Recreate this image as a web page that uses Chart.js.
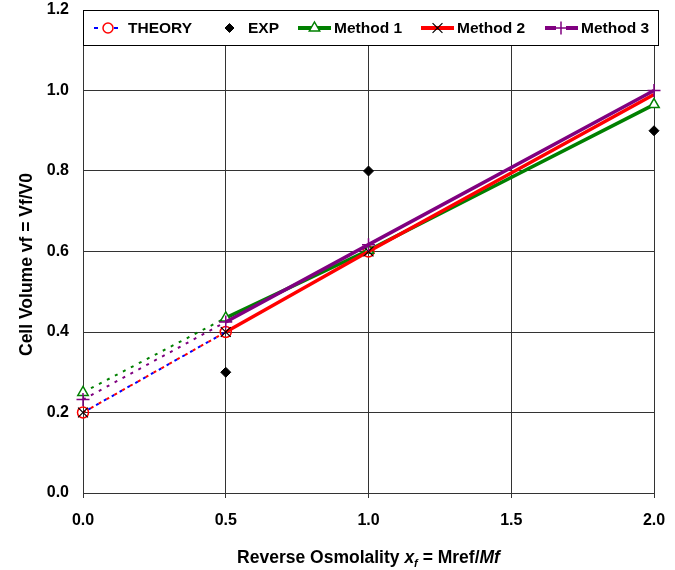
<!DOCTYPE html>
<html><head><meta charset="utf-8">
<script src="https://cdn.jsdelivr.net/npm/chart.js@4.4.0/dist/chart.umd.min.js"></script>
<style>html,body{margin:0;padding:0;background:#fff}#wrap{width:675px;height:570px;position:relative}</style>
</head><body><div id="wrap"><canvas id="c" width="675" height="570"></canvas></div>
<script>
// ---- data ----
const seriesNames = ['THEORY', 'EXP', 'Method 1', 'Method 2', 'Method 3'];
const xTicks = [0, 0.5, 1.0, 1.5, 2.0];
const yTicks = [0, 0.2, 0.4, 0.6, 0.8, 1.0, 1.2];
const theoryX = [0, 0.5, 1.0];
const theoryY = [0.2, 0.4, 0.6];
const expX = [0.5, 1.0, 2.0];
const expY = [0.3, 0.8, 0.9];
const methodX = [0, 0.5, 1.0, 2.0];
const method1Y = [0.25, 0.435, 0.603, 0.965];
const method2Y = [0.2, 0.4, 0.6, 0.99];
const method3Y = [0.232, 0.425, 0.617, 1.0];
const xTitleParts = ['Reverse Osmolality ', 'x', 'f', ' = Mref/', 'Mf'];
const yTitle = 'Cell Volume vf = Vf/V0';

const FONT = '"Liberation Sans", Arial, sans-serif';
const pts = (xs, ys) => xs.map((x, i) => ({x: x, y: ys[i]}));
const dotted = {
  borderDash: c => c.p0DataIndex === 0 ? [3, 6] : undefined,
  borderWidth: c => c.p0DataIndex === 0 ? 2 : undefined
};
const COL = {blue: '#0000ff', red: '#ff0000', green: '#008000', purple: '#800080'};

const datasets = [
  {label: seriesNames[0], data: pts(theoryX, theoryY), borderColor: COL.blue, borderWidth: 2, borderDash: [3, 6], borderDashOffset: 3,
   pointStyle: 'circle', pointRadius: 5.5, pointBorderColor: COL.red, pointBackgroundColor: 'rgba(255,255,255,0)', pointBorderWidth: 1.5, order: 5, clip: false},
  {label: seriesNames[1], data: pts(expX, expY), showLine: false, pointStyle: 'rectRot', pointRadius: 5,
   pointBorderColor: '#000', pointBackgroundColor: '#000', pointBorderWidth: 1, order: 4, clip: false},
  {label: seriesNames[2], data: pts(methodX, method1Y), borderColor: COL.green, borderWidth: 3.5, segment: dotted,
   pointStyle: 'triangle', pointRadius: 6, pointBorderColor: COL.green, pointBackgroundColor: '#fff', pointBorderWidth: 1.5, order: 3, clip: false},
  {label: seriesNames[3], data: pts(methodX, method2Y), borderColor: COL.red, borderWidth: 3.5, segment: dotted,
   pointStyle: 'crossRot', pointRadius: [7, 7, 7, 0], pointBorderColor: '#000', pointBorderWidth: 1.2, order: 2, clip: false},
  {label: seriesNames[4], data: pts(methodX, method3Y), borderColor: COL.purple, borderWidth: 3.5, segment: dotted,
   pointStyle: 'cross', pointRadius: 6.5, pointBorderColor: COL.purple, pointBorderWidth: 1.5, order: 1, clip: false}
];

function marker(ctx, type, x, y, r, stroke, fill, lw) {
  ctx.save();
  ctx.beginPath();
  ctx.lineWidth = lw; ctx.strokeStyle = stroke;
  if (type === 'circle') { ctx.arc(x, y, r, 0, Math.PI * 2); }
  else if (type === 'diamond') { ctx.moveTo(x - r, y); ctx.lineTo(x, y - r); ctx.lineTo(x + r, y); ctx.lineTo(x, y + r); ctx.closePath(); }
  else if (type === 'triangle') { const h = r * 0.866; ctx.moveTo(x, y - r); ctx.lineTo(x + h, y + r / 2); ctx.lineTo(x - h, y + r / 2); ctx.closePath(); }
  else if (type === 'x') { const d = r * 0.707; ctx.moveTo(x - d, y - d); ctx.lineTo(x + d, y + d); ctx.moveTo(x + d, y - d); ctx.lineTo(x - d, y + d); }
  else if (type === 'plus') { ctx.moveTo(x - r, y); ctx.lineTo(x + r, y); ctx.moveTo(x, y - r); ctx.lineTo(x, y + r); }
  if (fill) { ctx.fillStyle = fill; ctx.fill(); }
  ctx.stroke();
  ctx.restore();
}
function seg(ctx, x1, x2, y, col, w) {
  ctx.save(); ctx.beginPath(); ctx.strokeStyle = col; ctx.lineWidth = w; ctx.moveTo(x1, y); ctx.lineTo(x2, y); ctx.stroke(); ctx.restore();
}

const deco = {
  id: 'deco',
  afterDraw(chart) {
    const ctx = chart.ctx, a = chart.chartArea;
    ctx.save();
    // legend box inside plot
    const lx = a.left, ly = a.top, lw = a.right - a.left + 4, lh = 35;
    ctx.fillStyle = '#fff'; ctx.fillRect(lx, ly, lw, lh);
    ctx.strokeStyle = '#000'; ctx.lineWidth = 1; ctx.strokeRect(lx + 0.5, ly + 0.5, lw, lh);
    const y = ly + 18;
    ctx.font = 'bold 15.5px ' + FONT; ctx.fillStyle = '#000'; ctx.textBaseline = 'middle'; ctx.textAlign = 'left';
    // THEORY
    seg(ctx, lx + 11, lx + 15, y, COL.blue, 2); seg(ctx, lx + 31, lx + 35, y, COL.blue, 2);
    marker(ctx, 'circle', lx + 25, y, 5, COL.red, null, 1.5);
    ctx.fillText(seriesNames[0], lx + 45, y + 0.5);
    // EXP
    marker(ctx, 'diamond', lx + 146.5, y, 4.5, '#000', '#000', 1);
    ctx.fillText(seriesNames[1], lx + 165, y + 0.5);
    // Method 1
    seg(ctx, lx + 215, lx + 248, y, COL.green, 4);
    marker(ctx, 'triangle', lx + 231.5, y, 6, COL.green, '#fff', 1.5);
    ctx.fillText(seriesNames[2], lx + 251, y + 0.5);
    // Method 2
    seg(ctx, lx + 338, lx + 371, y, COL.red, 4);
    marker(ctx, 'x', lx + 354.5, y, 7, '#000', null, 1.2);
    ctx.fillText(seriesNames[3], lx + 374, y + 0.5);
    // Method 3
    seg(ctx, lx + 462, lx + 473, y, COL.purple, 4); seg(ctx, lx + 483, lx + 495, y, COL.purple, 4);
    marker(ctx, 'plus', lx + 478, y, 6.5, COL.purple, null, 1.5);
    ctx.fillText(seriesNames[4], lx + 498, y + 0.5);

    // x title with italic and subscript
    const big = 17.5, small = 11;
    const runs = [
      {t: xTitleParts[0], f: 'bold ' + big + 'px ' + FONT, dy: 0},
      {t: xTitleParts[1], f: 'italic bold ' + big + 'px ' + FONT, dy: 0},
      {t: xTitleParts[2], f: 'italic bold ' + small + 'px ' + FONT, dy: 4},
      {t: xTitleParts[3], f: 'bold ' + big + 'px ' + FONT, dy: 0},
      {t: xTitleParts[4], f: 'italic bold ' + big + 'px ' + FONT, dy: 0}
    ];
    let total = 0;
    runs.forEach(r => { ctx.font = r.f; r.w = ctx.measureText(r.t).width; total += r.w; });
    let x = (a.left + a.right) / 2 - total / 2;
    ctx.textBaseline = 'alphabetic';
    runs.forEach(r => { ctx.font = r.f; ctx.fillText(r.t, x, 563 + r.dy); x += r.w; });

    // y title
    ctx.translate(27, 264.5); ctx.rotate(-Math.PI / 2);
    ctx.font = 'bold ' + big + 'px ' + FONT; ctx.textAlign = 'center'; ctx.textBaseline = 'middle';
    ctx.fillText(yTitle, 0, 0);
    ctx.restore();
  }
};

new Chart(document.getElementById('c'), {
  type: 'line',
  data: {datasets: datasets},
  plugins: [deco],
  options: {
    responsive: false, devicePixelRatio: 1, animation: false,
    layout: {padding: {top: 10, right: 21, left: 0, bottom: 0}},
    plugins: {legend: {display: false}, tooltip: {enabled: false}},
    elements: {line: {tension: 0, borderCapStyle: 'butt'}},
    scales: {
      x: {type: 'linear', min: 0, max: 2,
        afterBuildTicks: s => { s.ticks = xTicks.map(v => ({value: v})); },
        afterFit: s => { s.height = 77; s.paddingLeft = 0; s.paddingRight = 0; },
        ticks: {callback: v => Number(v).toFixed(1), font: {family: FONT, size: 16, weight: 'bold'}, color: '#000', padding: 13, maxRotation: 0},
        grid: {color: '#333', lineWidth: 1, drawTicks: true, tickLength: 5},
        border: {color: '#333', width: 1}},
      y: {type: 'linear', min: 0, max: 1.2,
        afterBuildTicks: s => { s.ticks = yTicks.map(v => ({value: v})); },
        afterFit: s => { s.width = 83; s.paddingTop = 0; s.paddingBottom = 0; },
        ticks: {callback: v => Number(v).toFixed(1), font: {family: FONT, size: 16, weight: 'bold'}, color: '#000', padding: 14},
        grid: {color: '#333', lineWidth: 1, drawTicks: false},
        border: {color: '#333', width: 1}}
    }
  }
});
</script></body></html>
